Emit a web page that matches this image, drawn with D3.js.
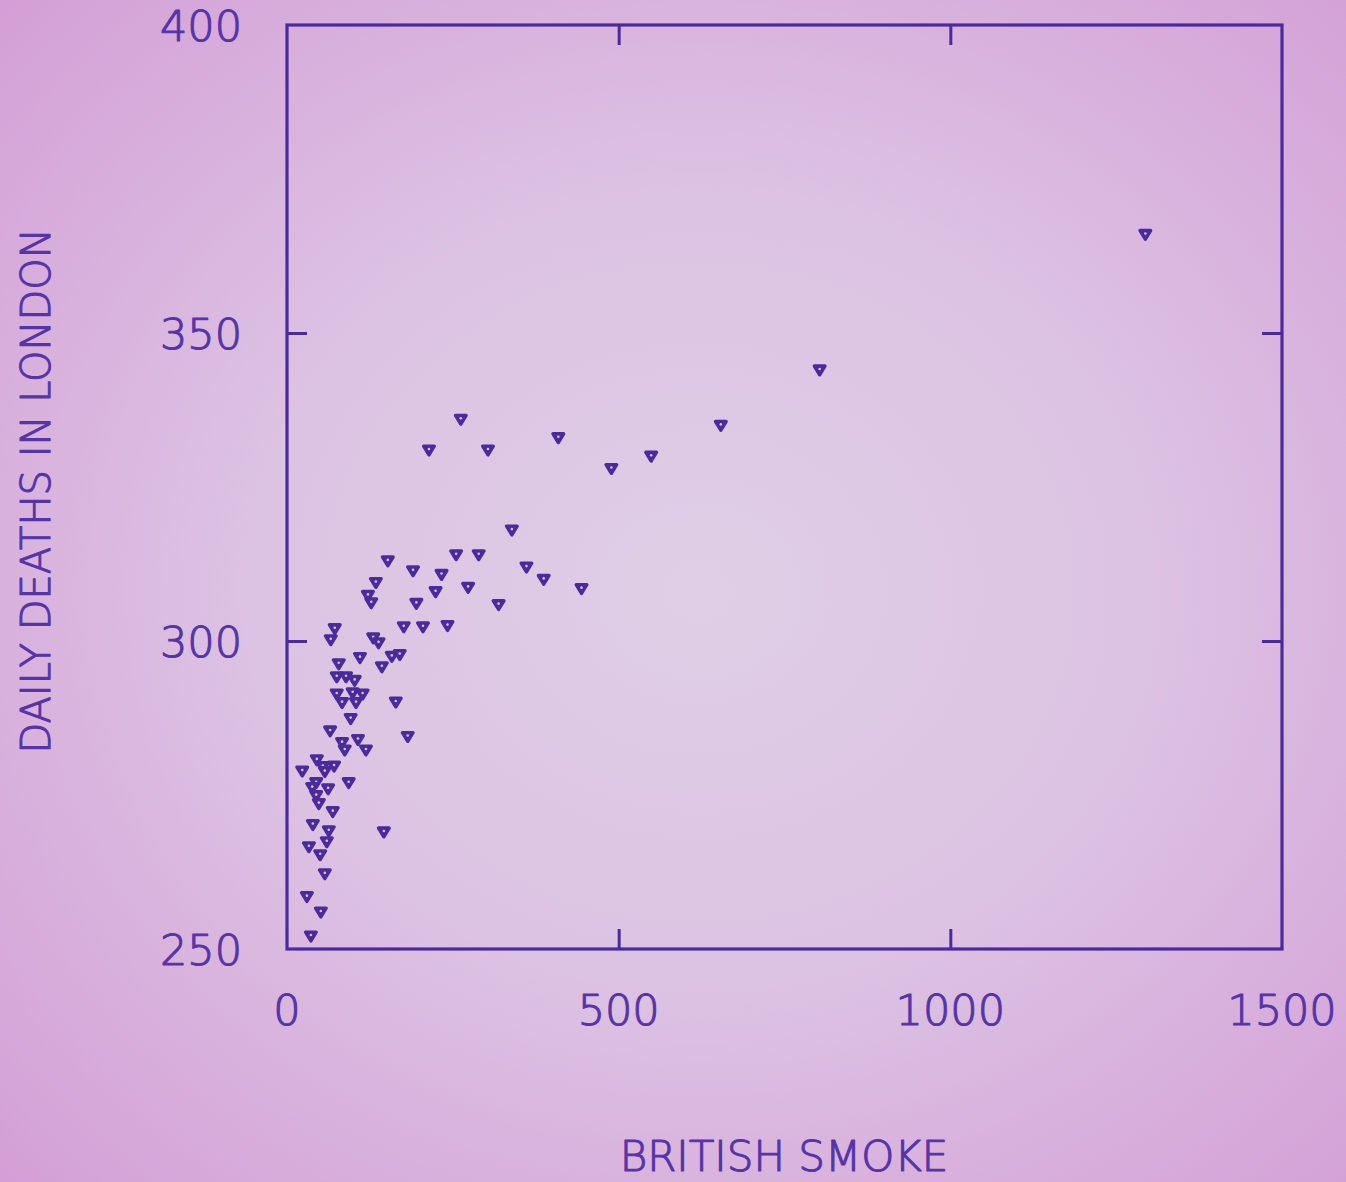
<!DOCTYPE html>
<html>
<head>
<meta charset="utf-8">
<script src="https://cdn.jsdelivr.net/npm/d3@7"></script>
<style>
  html, body { margin: 0; padding: 0; }
  body { width: 1346px; height: 1182px; overflow: hidden; }
  svg { display: block; }
</style>
</head>
<body>
<svg id="chart" width="1346" height="1182"></svg>
<script>
// British smoke concentration vs. daily deaths in London
const smoke = [1294, 803, 654, 549, 489, 409, 262, 214, 303, 339, 255, 289, 361, 387, 444,
  152, 190, 233, 224, 273, 195, 319, 134, 122, 127, 176, 205, 242, 72, 66, 130, 138, 158,
  170, 110, 78, 143, 75, 89, 102, 75, 83, 99, 114, 104, 164, 96, 65, 182, 83, 87, 107, 119,
  45, 54, 57, 71, 23, 44, 38, 44, 48, 62, 93, 69, 39, 63, 60, 33, 50, 146, 57, 30, 51, 36];
const deaths = [366, 344, 335, 330, 328, 333, 336, 331, 331, 318, 314, 314, 312, 310, 308.5,
  313, 311.4, 310.8, 308, 308.7, 306.1, 305.9, 309.5, 307.4, 306.2, 302.3, 302.3, 302.5, 302,
  300.2, 300.5, 299.7, 297.5, 297.8, 297.3, 296.3, 295.8, 294.2, 294.2, 293.6, 291.4, 290,
  291.6, 291.4, 290, 290.1, 287.4, 285.4, 284.5, 283.5, 282.3, 284, 282.3, 280.7, 279.6,
  278.8, 279.7, 278.9, 277, 276.2, 274.9, 273.6, 276, 277, 272.3, 270.2, 269.2, 267.4, 266.6,
  265.3, 269, 262.2, 258.5, 256, 252.1];

const xTicks = [0, 500, 1000, 1500];
const yTicks = [250, 300, 350, 400];
const xTitle = "BRITISH SMOKE";
const yTitle = "DAILY DEATHS IN LONDON";

const ink = "#4a2a9c";
const textInk = "#5634a8";
const font = "'DejaVu Sans', sans-serif";

const svg = d3.select("#chart");

// paper background: lighter in the middle, pinker at the edges
const defs = svg.append("defs");
const grad = defs.append("radialGradient").attr("id", "paper")
  .attr("cx", "0.52").attr("cy", "0.5").attr("r", "0.75");
grad.append("stop").attr("offset", "0").attr("stop-color", "#dfcee6");
grad.append("stop").attr("offset", "0.45").attr("stop-color", "#dcc2e3");
grad.append("stop").attr("offset", "1").attr("stop-color", "#d39cd5");
svg.append("rect").attr("width", 1346).attr("height", 1182).attr("fill", "url(#paper)");

const frameL = 287, frameR = 1282, frameT = 25, frameB = 949;
const x = d3.scaleLinear().domain([0, 1500]).range([frameL, frameR]);
const y = d3.scaleLinear().domain([250, 400]).range([frameB, frameT]);

const tickLen = 20;
const innerX = v => v !== 0 && v !== 1500;
const innerY = v => v !== 250 && v !== 400;

// axes: ticks pointing into the frame on all four sides
const axisStyle = g => {
  g.select(".domain").remove();
  g.selectAll(".tick line").attr("stroke", ink).attr("stroke-width", 3);
  g.selectAll(".tick text").remove();
};
svg.append("g").attr("transform", `translate(0,${frameB})`)
  .call(d3.axisBottom(x).tickValues(xTicks.filter(innerX)).tickSize(-tickLen)).call(axisStyle);
svg.append("g").attr("transform", `translate(0,${frameT})`)
  .call(d3.axisTop(x).tickValues(xTicks.filter(innerX)).tickSize(-tickLen)).call(axisStyle);
svg.append("g").attr("transform", `translate(${frameL},0)`)
  .call(d3.axisLeft(y).tickValues(yTicks.filter(innerY)).tickSize(-tickLen)).call(axisStyle);
svg.append("g").attr("transform", `translate(${frameR},0)`)
  .call(d3.axisRight(y).tickValues(yTicks.filter(innerY)).tickSize(-tickLen)).call(axisStyle);

// frame
svg.append("rect")
  .attr("x", frameL).attr("y", frameT)
  .attr("width", frameR - frameL).attr("height", frameB - frameT)
  .attr("fill", "none").attr("stroke", ink).attr("stroke-width", 3.2);

// plotter-pen lettering: light face thickened with a thin outline
const pen = sel => sel
  .attr("font-family", font).attr("font-weight", 300)
  .attr("fill", textInk).attr("stroke", textInk).attr("stroke-width", 1.1)
  .attr("stroke-linejoin", "round");

// tick labels
svg.append("g").selectAll("text").data(xTicks).join("text")
  .attr("x", d => x(d)).attr("y", 1025)
  .attr("text-anchor", "middle").attr("font-size", 43)
  .call(pen)
  .text(d => d);
svg.append("g").selectAll("text").data(yTicks).join("text")
  .attr("x", 242).attr("y", d => y(d) + 16)
  .attr("text-anchor", "end").attr("font-size", 43)
  .call(pen)
  .text(d => d);

// axis titles
svg.append("text")
  .attr("x", 784).attr("y", 1171)
  .attr("text-anchor", "middle").attr("font-size", 42)
  .call(pen)
  .text(xTitle);
svg.append("text")
  .attr("transform", "translate(50,491) rotate(-90)")
  .attr("text-anchor", "middle").attr("font-size", 40)
  .call(pen)
  .text(yTitle);

// inverted-triangle markers with a small light centre
const tri = "M-5.3,-3.9 L5.3,-3.9 L0,4.8 Z";
const pts = svg.append("g").selectAll("g").data(smoke.map((s, i) => [s, deaths[i]])).join("g")
  .attr("transform", d => `translate(${x(d[0])},${y(d[1])})`);
pts.append("path").attr("d", tri)
  .attr("fill", ink).attr("stroke", ink)
  .attr("stroke-width", 3.4).attr("stroke-linejoin", "round");
pts.append("circle").attr("cx", 0).attr("cy", -1).attr("r", 1.3).attr("fill", "#d8c4e6");
</script>
</body>
</html>
